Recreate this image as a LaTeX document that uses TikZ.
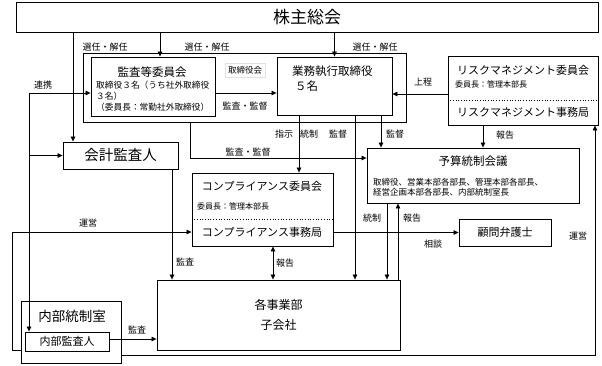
\documentclass[tikz,border=0pt]{standalone}
\usepackage{fontspec}
\setmainfont{Noto Sans CJK JP}
\usetikzlibrary{arrows.meta, positioning, calc}
\tikzset{
  box/.style    = {rectangle, draw, line width=0.9pt, inner sep=0pt},
  arrow/.style  = {line width=0.7pt, -{Triangle[length=5pt,width=4.5pt]}},
  darrow/.style = {line width=0.7pt, {Triangle[length=5pt,width=4.5pt]}-{Triangle[length=5pt,width=4.5pt]}},
  divider/.style = {dotted, line width=0.7pt},
  lbl/.style    = {font=\fontsize{9}{10}\selectfont, inner sep=0pt},
  ttl/.style    = {font=\fontsize{11}{13}\selectfont, inner sep=0pt},
  subtxt/.style = {font=\fontsize{8}{11}\selectfont, inner sep=0pt},
}

\begin{document}
\begin{tikzpicture}[x=1pt, y=-1pt]
  \useasboundingbox (0,0) rectangle (602,365);

  %% General meeting
  \node[box, minimum width=582pt, minimum height=30pt, font=\fontsize{17}{19}\selectfont]
       (soukai) at (307,17) {株主総会};

  %% Board frame
  \node[box, minimum width=323pt, minimum height=69pt] (board) at (244.5,87.5) {};
  \node[lbl, font=\fontsize{8.5}{10}\selectfont, draw=black!12, inner sep=3pt] (boardT) at (245,70) {取締役会};

  \node[box, minimum width=124pt, minimum height=59pt] (kansatou) at (153,86.5) {};
  \node[ttl, font=\fontsize{11.5}{13}\selectfont] (kansatouT) at (152,72) {監査等委員会};
  \node[subtxt, font=\fontsize{8.7}{11}\selectfont, anchor=north west, align=left] (kansatouS) at (96,80.5)
       {取締役３名（うち社外取締役\\３名）\\（委員長：常勤社外取締役）};

  \node[box, minimum width=115pt, minimum height=58pt] (gyoumu) at (334.5,86) {};
  \node[ttl, font=\fontsize{11.5}{15}\selectfont, anchor=north west, align=left]
       (gyoumuT) at (292,66) {業務執行取締役\\\hspace*{3pt}５名};

  %% Risk management
  \node[box, minimum width=150pt, minimum height=69pt] (risk) at (523,90.5) {};
  \node[ttl] (riskT) at (523,70) {リスクマネジメント委員会};
  \node[subtxt, anchor=west] (riskS) at (455,84) {委員長：管理本部長};
  \draw[divider] ([yshift=-9.5pt]risk.west) -- ([yshift=-9.5pt]risk.east);
  \node[ttl] (riskJ) at (523,112) {リスクマネジメント事務局};

  %% Accounting auditor, budget, compliance
  \node[box, minimum width=115pt, minimum height=27pt, font=\fontsize{14.5}{16}\selectfont]
       (kaikei) at (120.5,155.5) {会計監査人};

  \node[box, minimum width=212pt, minimum height=55pt] (yosan) at (473,175.5) {};
  \node[ttl, font=\fontsize{11.5}{13}\selectfont] (yosanT) at (473,161) {予算統制会議};
  \node[subtxt, font=\fontsize{8.5}{10}\selectfont, anchor=north west, align=left]
       (yosanS) at (373,178) {取締役、営業本部各部長、管理本部各部長、\\経営企画本部各部長、内部統制室長};

  \node[box, minimum width=141pt, minimum height=73pt] (comp) at (262.5,209.5) {};
  \node[ttl] (compT) at (262,186) {コンプライアンス委員会};
  \node[subtxt, anchor=west] (compS) at (197,206) {委員長：管理本部長};
  \draw[divider] ([yshift=-9.5pt]comp.west) -- ([yshift=-9.5pt]comp.east);
  \node[ttl] (compJ) at (262,232) {コンプライアンス事務局};

  \node[box, minimum width=92pt, minimum height=27pt, ttl] (komon) at (505,232.5) {顧問弁護士};

  %% Divisions and internal control
  \node[box, minimum width=243pt, minimum height=70pt, align=center,
        font=\fontsize{12}{20}\selectfont] (jigyou) at (278.5,315) {各事業部\\子会社};

  \node[box, minimum width=100pt, minimum height=62pt] (naibu) at (71,332) {};
  \node[font=\fontsize{13.5}{15}\selectfont, inner sep=0pt] (naibuT) at (72,316) {内部統制室};
  \node[box, minimum width=84pt, minimum height=19pt, ttl] (naibukansa) at (67,341.5) {内部監査人};

  %% Connections from the meeting
  \draw[arrow] ([xshift=-47.5pt]kaikei.north |- soukai.south) -- ([xshift=-47.5pt]kaikei.north);
  \draw[arrow] ([xshift=7pt]kansatou.north |- soukai.south) -- ([xshift=7pt]kansatou.north);
  \draw[arrow] (gyoumu.north |- soukai.south) -- (gyoumu.north);
  \node[lbl] (sen1) at (105,47) {選任・解任};
  \node[lbl] (sen2) at (207,47) {選任・解任};
  \node[lbl] (sen3) at (375,47) {選任・解任};

  %% Board level
  \draw[arrow] ([yshift=-6.5pt]kansatou.east) -- ([yshift=-6.5pt]kansatou.east -| gyoumu.west);
  \node[lbl] (kantoku1) at (245,106) {監査・監督};
  \draw[arrow] ([yshift=-3.5pt]risk.west) -- ([yshift=-3.5pt]risk.west -| gyoumu.east);
  \node[lbl] (jousei) at (423,82) {上程};

  \coordinate (renkei) at (29,93);
  \draw[arrow] (renkei) -- (renkei -| kansatou.west);
  \draw[arrow] (renkei) -- (renkei |- naibukansa.north);
  \draw[arrow] (renkei |- kaikei.west) -- (kaikei.west);
  \node[lbl] (renkeiL) at (43,85) {連携};

  \draw[arrow] ([xshift=-54.5pt]board.south) |- ([yshift=17.5pt]yosan.west);
  \node[lbl] (kantoku2) at (248,152) {監査・監督};

  %% From executive directors
  \draw[arrow] ([xshift=-35.5pt]gyoumu.south) -- ([xshift=-35.5pt]gyoumu.south |- comp.north);
  \draw[arrow] ([xshift=20.5pt]gyoumu.south) -- ([xshift=20.5pt]gyoumu.south |- jigyou.north);
  \draw[arrow] ([xshift=46.5pt]gyoumu.south) -- ([xshift=46.5pt]gyoumu.south |- yosan.north);
  \node[lbl] (shiji)    at (284,134) {指示};
  \node[lbl] (tousei1)  at (309,134) {統制};
  \node[lbl] (kantoku3) at (338,134) {監督};
  \node[lbl] (kantoku4) at (395,134) {監督};

  \draw[arrow] ([xshift=-40pt]risk.south) -- ([xshift=-40pt]risk.south |- yosan.north);
  \node[lbl] (houkoku1) at (505,135) {報告};

  %% Lower level
  \draw[arrow] ([xshift=51.5pt]kaikei.south) -- ([xshift=51.5pt]kaikei.south |- jigyou.north);
  \node[lbl] (kansa1) at (185,262) {監査};
  \draw[darrow] ([xshift=10.5pt]comp.south) -- ([xshift=10.5pt]comp.south |- jigyou.north);
  \node[lbl] (houkoku2) at (285,263) {報告};
  \draw[arrow] ([xshift=-86pt]yosan.south) -- ([xshift=-86pt]yosan.south |- jigyou.north);
  \node[lbl] (tousei2) at (372,218) {統制};
  \draw[arrow] ([xshift=-75pt]yosan.south |- jigyou.north) -- ([xshift=-75pt]yosan.south);
  \node[lbl] (houkoku3) at (412,218) {報告};
  \draw[arrow] (comp.east |- komon.west) -- (komon.west);
  \node[lbl] (soudan) at (433,244) {相談};

  \draw[arrow] ([yshift=-18pt]naibu.west) -- ++(-8,0) |- ([yshift=-22.5pt]comp.west);
  \node[lbl] (unei1) at (88,223) {運営};
  \draw[arrow] ([yshift=-23pt]naibu.east) -| ([xshift=72pt]risk.south);
  \node[lbl] (unei2) at (578,236) {運営};
  \draw[arrow] ([yshift=2.5pt]naibukansa.east) -- ([yshift=2.5pt]naibukansa.east -| jigyou.west);
  \node[lbl] (kansa2) at (137,330) {監査};

\end{tikzpicture}
\end{document}
